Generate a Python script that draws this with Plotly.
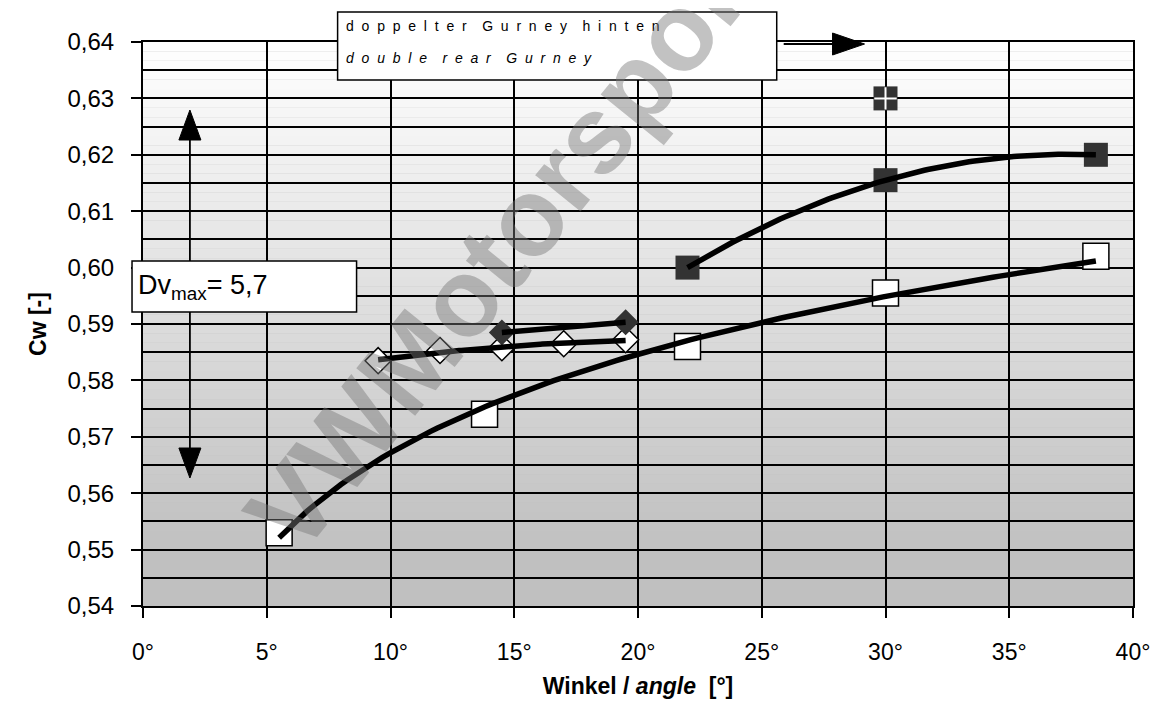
import numpy as np
import plotly.graph_objects as go

# ---------------- data ----------------
sq_open_x = [5.5, 13.8, 22.0, 30.0, 38.5]
sq_open_y = [0.553, 0.574, 0.586, 0.5955, 0.602]

sq_dark_x = [22.0, 30.0, 38.5]
sq_dark_y = [0.600, 0.6155, 0.620]

outlier_x = [30.0]
outlier_y = [0.630]

dia_open_x = [9.5, 12.0, 14.5, 17.0, 19.5]
dia_open_y = [0.5835, 0.5853, 0.5858, 0.5865, 0.5872]

dia_dark_x = [14.5, 19.5]
dia_dark_y = [0.5885, 0.5903]

x_tick_vals = [0, 5, 10, 15, 20, 25, 30, 35, 40]
x_tick_text = ["0°", "5°", "10°", "15°", "20°", "25°", "30°", "35°", "40°"]
y_tick_vals = [0.54, 0.55, 0.56, 0.57, 0.58, 0.59, 0.60, 0.61, 0.62, 0.63, 0.64]
y_tick_text = ["0,54", "0,55", "0,56", "0,57", "0,58", "0,59", "0,60", "0,61", "0,62", "0,63", "0,64"]

dv_max_text = "5,7"
box_line1 = "doppelter Gurney hinten"
box_line2 = "double rear Gurney"

FONT = "Liberation Sans, Arial, sans-serif"

# page body has an 8px margin; compensate so the plot area sits where it should
OFF = 8
FIG_W, FIG_H = 1162 - OFF, 715 - OFF
# plot area in window pixels
L, R, T, B = 143, 1135, 42, 606


def px_x(p):
    return (p - L) / (R - L)


def px_y(p):
    return (B - p) / (B - T)


def spaced(s):
    gap = "\u00a0\u00a0"
    words = s.split(" ")
    return (gap * 2).join(gap.join(w) for w in words)


# ---------------- trend lines from data ----------------
def fit_curve(x, y, kind, deg=1):
    xs = np.linspace(min(x), max(x), 120)
    if kind == "log":
        c = np.polyfit(np.log(x), y, 1)
        ys = np.polyval(c, np.log(xs))
    else:
        c = np.polyfit(x, y, deg)
        ys = np.polyval(c, xs)
    return xs, ys


fig = go.Figure()

# markers first (trend lines are drawn on top)
fig.add_trace(go.Scatter(x=sq_open_x, y=sq_open_y, mode="markers",
                         marker=dict(symbol="square", size=26, color="white",
                                     line=dict(color="black", width=1.5)),
                         showlegend=False))
fig.add_trace(go.Scatter(x=sq_dark_x, y=sq_dark_y, mode="markers",
                         marker=dict(symbol="square", size=24, color="#333333",
                                     line=dict(color="#333333", width=0)),
                         showlegend=False))
fig.add_trace(go.Scatter(x=outlier_x, y=outlier_y, mode="markers",
                         marker=dict(symbol="square", size=24, color="#333333",
                                     line=dict(width=0)),
                         showlegend=False))
fig.add_trace(go.Scatter(x=outlier_x, y=outlier_y, mode="markers",
                         marker=dict(symbol="cross-thin", size=16, color="white",
                                     line=dict(color="white", width=2)),
                         showlegend=False))
fig.add_trace(go.Scatter(x=dia_open_x, y=dia_open_y, mode="markers",
                         marker=dict(symbol="diamond", size=20, color="white",
                                     line=dict(color="black", width=1.5)),
                         showlegend=False))
fig.add_trace(go.Scatter(x=dia_dark_x, y=dia_dark_y, mode="markers",
                         marker=dict(symbol="diamond", size=20, color="#333333",
                                     line=dict(color="#333333", width=0)),
                         showlegend=False))

for (xx, yy, kind, deg) in [(sq_open_x, sq_open_y, "log", 1),
                            (sq_dark_x, sq_dark_y, "poly", 2),
                            (dia_open_x, dia_open_y, "poly", 2),
                            (dia_dark_x, dia_dark_y, "poly", 1)]:
    xs, ys = fit_curve(np.array(xx), np.array(yy), kind, deg)
    fig.add_trace(go.Scatter(x=xs, y=ys, mode="lines",
                             line=dict(color="black", width=5.5),
                             showlegend=False, hoverinfo="skip"))

# ---------------- background gradient ----------------
shapes = []
y0, y1 = 0.54, 0.64
n = 60
for i in range(n):
    a = y0 + (y1 - y0) * i / n
    b = y0 + (y1 - y0) * (i + 1) / n
    c = (a + b) / 2
    t = max(0.0, (c - 0.55) / 0.09)
    g = int(round(192 + 63 * min(t, 1.0)))
    shapes.append(dict(type="rect", xref="x domain", yref="y", x0=0, x1=1,
                       y0=a, y1=b, fillcolor=f"rgb({g},{g},{g})",
                       line=dict(width=0), layer="below"))

# top text box
shapes.append(dict(type="rect", xref="paper", yref="paper",
                   x0=px_x(338), x1=px_x(778), y0=px_y(80), y1=px_y(12),
                   fillcolor="white", line=dict(color="black", width=1.5),
                   layer="above"))
# Dv box
shapes.append(dict(type="rect", xref="paper", yref="paper",
                   x0=px_x(132), x1=px_x(357), y0=px_y(312), y1=px_y(261),
                   fillcolor="white", line=dict(color="black", width=1.5),
                   layer="above"))


# arrows (lines + filled triangular heads)
def arrow_line(xa, ya, xb, yb):
    shapes.append(dict(type="line", xref="paper", yref="paper",
                       x0=px_x(xa), y0=px_y(ya), x1=px_x(xb), y1=px_y(yb),
                       line=dict(color="black", width=1.8), layer="above"))


def arrow_head(xt, yt, path):
    shapes.append(dict(type="path", xref="paper", yref="paper",
                       xsizemode="pixel", ysizemode="pixel",
                       xanchor=px_x(xt), yanchor=px_y(yt), path=path,
                       fillcolor="black", line=dict(color="black", width=1),
                       layer="above"))


# right arrow at top
arrow_line(785, 44, 840, 44)
arrow_head(866, 44, "M0,0 L-32,11 L-32,-11 Z")
# vertical double arrow (interrupted by the Dv box)
arrow_line(190, 135, 190, 261)
arrow_line(190, 312, 190, 452)
arrow_head(190, 110, "M0,0 L-11,-30 L11,-30 Z")
arrow_head(190, 478, "M0,0 L-11,30 L11,30 Z")

annotations = [
    dict(xref="paper", yref="paper", x=px_x(344), y=px_y(26), xanchor="left",
         yanchor="middle", showarrow=False, text=spaced(box_line1),
         font=dict(family=FONT, size=14, color="black")),
    dict(xref="paper", yref="paper", x=px_x(344), y=px_y(58), xanchor="left",
         yanchor="middle", showarrow=False, text="<i>" + spaced(box_line2) + "</i>",
         font=dict(family=FONT, size=14, color="black")),
    dict(xref="paper", yref="paper", x=px_x(136), y=px_y(287), xanchor="left",
         yanchor="middle", showarrow=False,
         text="Dv<sub>max</sub>= " + dv_max_text,
         font=dict(family=FONT, size=27, color="black")),
    # watermark
    dict(xref="paper", yref="paper", x=px_x(508), y=px_y(240),
         xanchor="center", yanchor="middle", showarrow=False,
         text="<b>VWMotorsport</b>", textangle=-51,
         font=dict(family=FONT, size=110, color="rgba(120,120,120,0.45)")),
]

fig.update_layout(
    width=FIG_W, height=FIG_H,
    margin=dict(l=L - OFF, r=(FIG_W + OFF) - R, t=T - OFF, b=(FIG_H + OFF) - B),
    paper_bgcolor="white", plot_bgcolor="#c0c0c0",
    shapes=shapes, annotations=annotations,
    font=dict(family=FONT, color="black"),
    showlegend=False,
)
fig.update_xaxes(range=[0, 40], tickvals=x_tick_vals, ticktext=x_tick_text,
                 showgrid=True, gridcolor="black", gridwidth=1.5, zeroline=False,
                 showline=True, linecolor="black", linewidth=2, mirror=True,
                 ticks="outside", ticklen=10, tickwidth=1.5, tickcolor="black",
                 tickfont=dict(family=FONT, size=23, color="black"),
                 ticklabelstandoff=14,
                 title=dict(text="<b>Winkel / <i>angle</i>  [°]</b>",
                            font=dict(family=FONT, size=23, color="black"),
                            standoff=14))
fig.update_yaxes(range=[0.54, 0.64], tickvals=y_tick_vals, ticktext=y_tick_text,
                 showgrid=True, gridcolor="black", gridwidth=1.5, zeroline=False,
                 showline=True, linecolor="black", linewidth=2, mirror=True,
                 ticks="outside", ticklen=10, tickwidth=1.5, tickcolor="black",
                 tickfont=dict(family=FONT, size=24, color="black"),
                 ticklabelstandoff=12,
                 minor=dict(tick0=0.54, dtick=0.005, showgrid=True,
                            gridcolor="black", gridwidth=1.5, ticks=""),
                 title=dict(text="<b>Cw [-]</b>",
                            font=dict(family=FONT, size=23, color="black"),
                            standoff=14))

fig.write_html("out.html")
